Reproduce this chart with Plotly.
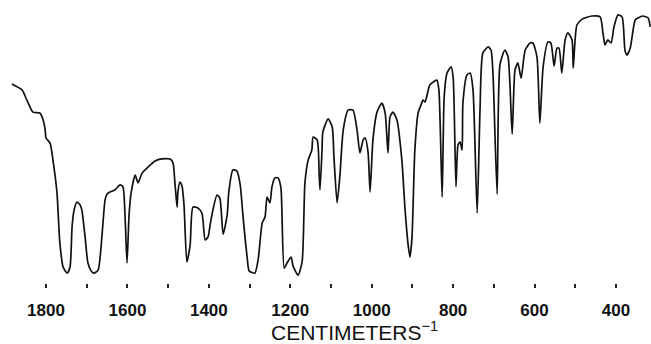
import plotly.graph_objects as go

# Wavenumber (cm^-1) and % transmittance
wavenumber = [1884, 1859, 1847, 1832, 1815, 1807, 1802, 1800, 1790, 1783, 1773, 1766, 1758, 1748,
              1741, 1736, 1731, 1724, 1716, 1712, 1704, 1697, 1689, 1682, 1672, 1662, 1655, 1650,
              1643, 1631, 1618, 1611, 1606, 1601, 1596, 1591, 1581, 1574, 1564, 1549, 1532, 1520,
              1495, 1488, 1483, 1478, 1476, 1471, 1466, 1461, 1454, 1446, 1439, 1427, 1417, 1409,
              1402, 1397, 1390, 1380, 1373, 1365, 1355, 1351, 1341, 1331, 1323, 1316, 1306, 1301,
              1287, 1279, 1269, 1262, 1257, 1250, 1245, 1238, 1230, 1223, 1215, 1208, 1198, 1193,
              1181, 1171, 1164, 1156, 1147, 1144, 1134, 1129, 1127, 1122, 1120, 1107, 1097, 1093,
              1085, 1078, 1070, 1058, 1046, 1036, 1029, 1021, 1016, 1009, 1004, 997, 987, 975,
              967, 960, 955, 948, 938, 926, 918, 911, 906, 901, 894, 886, 879, 874, 869, 864,
              857, 840, 835, 827, 822, 815, 805, 800, 793, 788, 783, 778, 776, 766, 758, 751,
              741, 734, 727, 714, 707, 702, 692, 685, 673, 665, 655, 648, 641, 633, 623, 611,
              604, 594, 587, 579, 567, 560, 552, 545, 540, 533, 525, 518, 508, 505, 496, 483,
              459, 439, 432, 427, 420, 412, 405, 395, 385, 378, 373, 365, 353, 346, 334, 321, 316]

transmittance = [70.1, 68.0, 64.4, 60.1, 59.8, 57.3, 53.7, 50.9, 49.1, 43.1, 31.3, 13.5, 5.0, 2.8,
                 5.0, 19.2, 25.3, 28.1, 27.0, 25.3, 15.7, 6.4, 3.6, 2.8, 3.9, 17.1, 28.8, 31.0,
                 31.7, 32.4, 34.2, 33.5, 23.5, 6.4, 23.5, 31.3, 37.7, 34.9, 38.4, 40.6, 42.7, 43.4,
                 43.4, 42.0, 34.2, 26.3, 31.7, 35.2, 33.8, 27.0, 6.8, 12.8, 26.3, 26.0, 24.2, 14.6,
                 15.7, 19.9, 25.3, 30.6, 29.5, 16.7, 23.5, 31.7, 39.5, 39.1, 34.2, 22.8, 8.5, 3.6,
                 2.8, 7.5, 20.6, 22.8, 29.9, 27.8, 33.5, 36.7, 36.7, 33.1, 4.6, 6.4, 8.5, 5.3,
                 2.1, 6.8, 34.9, 43.1, 46.6, 51.2, 50.2, 37.7, 32.4, 46.6, 53.0, 57.7, 54.8, 44.8,
                 27.8, 37.7, 53.7, 60.8, 60.8, 53.7, 45.6, 50.2, 50.9, 45.9, 31.7, 50.2, 60.1, 63.3,
                 59.8, 45.6, 58.4, 60.1, 57.3, 43.1, 25.3, 13.5, 8.5, 15.7, 46.6, 59.8, 62.6, 64.4, 63.7, 66.2,
                 69.8, 71.5, 68.0, 29.9, 65.5, 74.0, 76.2, 72.6, 33.5, 48.4, 49.5, 46.6, 63.3, 73.3, 74.0, 67.6,
                 24.2, 60.9, 81.1, 83.3, 82.2, 73.3, 30.9, 76.9, 82.2, 79.7, 52.3, 75.1, 77.6, 72.2, 82.2, 84.7,
                 84.7, 79.7, 56.2, 76.2, 85.1, 84.7, 76.5, 82.9, 82.9, 74.0, 85.8, 88.3, 85.8, 75.8, 91.1, 93.2,
                 94.3, 94.0, 88.3, 84.0, 85.8, 84.7, 90.4, 94.7, 94.0, 82.2, 80.4, 82.9, 92.9, 93.6, 94.3, 93.6, 90.4]

tick_values = [1800, 1600, 1400, 1200, 1000, 800, 600, 400]
tick_labels = ["1800", "1600", "1400", "1200", "1000", "800", "600", "400"]
minor_tick_values = [1700, 1500, 1300, 1100, 900, 700, 500]
axis_title = "CENTIMETERS<sup>−1</sup>"

fig = go.Figure()
fig.add_trace(go.Scatter(
    x=wavenumber, y=transmittance, mode="lines",
    line=dict(color="#111111", width=1.7, shape="spline", smoothing=0.6),
    hoverinfo="skip", showlegend=False,
))

fig.update_layout(
    width=651, height=344,
    margin=dict(l=0, r=0, t=0, b=61, autoexpand=False),
    paper_bgcolor="white", plot_bgcolor="white",
    font=dict(family="Liberation Sans, Arial, sans-serif", color="#111111"),
    xaxis=dict(
        range=[1913, 314], showgrid=False, zeroline=False, showline=False,
        tickmode="array", tickvals=tick_values, ticktext=tick_labels,
        ticks="outside", ticklen=4, tickwidth=2, tickcolor="#222222",
        tickfont=dict(size=17, color="#111111", weight="bold"),
        ticklabelstandoff=8, automargin=False,
        minor=dict(tickvals=minor_tick_values, ticks="outside",
                   ticklen=4, tickwidth=2, tickcolor="#222222", showgrid=False),
    ),
    yaxis=dict(range=[-0.71, 100], visible=False),
    annotations=[dict(
        text=axis_title, xref="paper", yref="paper", x=354 / 651, y=-0.17,
        xanchor="center", yanchor="middle", showarrow=False,
        font=dict(size=21, color="#111111", family="Liberation Sans, Arial, sans-serif"),
    )],
)

fig.write_html("out.html", config={"displayModeBar": False, "staticPlot": True},
               post_script="document.body.style.margin='0';document.body.style.overflow='hidden';")
